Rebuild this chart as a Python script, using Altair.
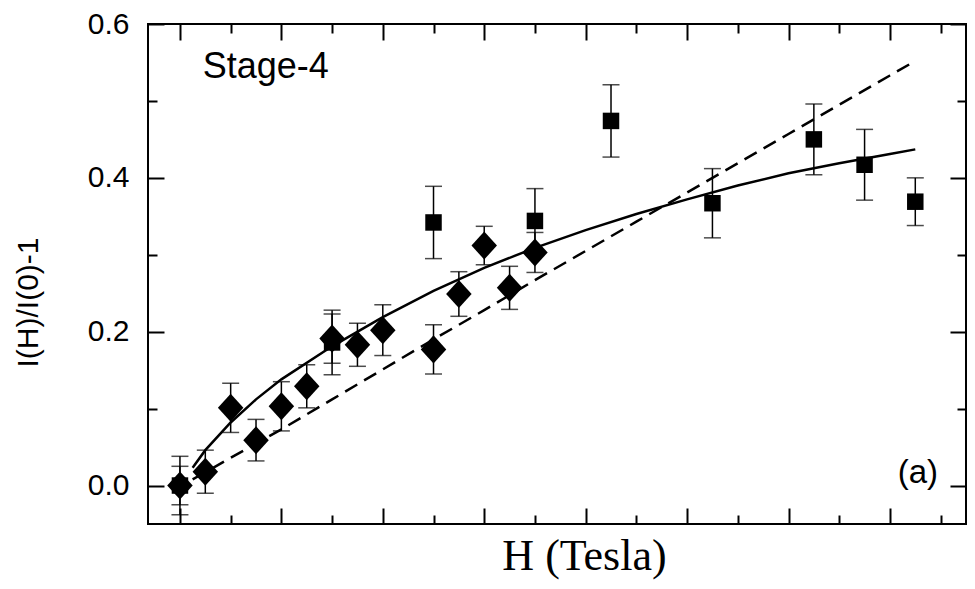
import altair as alt
import pandas as pd

# ---- data ----
dia_h = [0, 0.5, 1, 1.5, 2, 2.5, 3, 3.5, 4, 5, 5.5, 6, 6.5, 7]
dia_v = [0.0, 0.018, 0.101, 0.059, 0.103, 0.129, 0.191, 0.183, 0.202, 0.177, 0.249, 0.312, 0.257, 0.303]
dia_e = [0.038, 0.028, 0.032, 0.027, 0.032, 0.028, 0.032, 0.028, 0.033, 0.032, 0.029, 0.025, 0.028, 0.026]

sq_h = [0, 3, 5, 7, 8.5, 10.5, 12.5, 13.5, 14.5]
sq_v = [0.0, 0.186, 0.342, 0.344, 0.474, 0.367, 0.450, 0.417, 0.369]
sq_e = [0.025, 0.042, 0.047, 0.042, 0.047, 0.045, 0.046, 0.046, 0.031]

solid_h = [0.25, 0.5, 1, 1.5, 2, 3, 4, 5, 6, 7, 8, 9, 10, 11, 12, 13, 14, 14.5]
solid_v = [0.023, 0.046, 0.082, 0.112, 0.138, 0.181, 0.219, 0.253, 0.283, 0.309, 0.332,
           0.353, 0.372, 0.390, 0.406, 0.419, 0.431, 0.437]

dash_h = [0.25, 1, 2, 3, 4, 5, 6, 7, 8, 9, 10, 11, 12, 13, 14, 14.5]
dash_v = [0.008, 0.036, 0.073, 0.112, 0.151, 0.190, 0.228, 0.267, 0.305, 0.343, 0.381,
          0.419, 0.457, 0.495, 0.533, 0.552]

ann_text = ["Stage-4", "(a)"]
ann_h = [0.45, 14.95]
ann_v = [0.53, 0.003]

x_major = [0, 2, 4, 6, 8, 10, 12, 14]
x_minor = [1, 3, 5, 7, 9, 11, 13, 15]
y_major = [0.0, 0.2, 0.4, 0.6]
y_minor = [0.1, 0.3, 0.5]

# ---- tables ----
dia = pd.DataFrame({"h": dia_h, "v": dia_v, "e": dia_e})
dia["lo"] = dia["v"] - dia["e"]
dia["hi"] = dia["v"] + dia["e"]
sq = pd.DataFrame({"h": sq_h, "v": sq_v, "e": sq_e})
sq["lo"] = sq["v"] - sq["e"]
sq["hi"] = sq["v"] + sq["e"]
solid = pd.DataFrame({"h": solid_h, "v": solid_v})
dash = pd.DataFrame({"h": dash_h, "v": dash_v})
ann = pd.DataFrame({"t": ann_text, "h": ann_h, "v": ann_v})

xs = alt.Scale(domain=[-0.63, 15.5], nice=False, zero=False)
ys = alt.Scale(domain=[-0.05, 0.6], nice=False, zero=False)

NOAX = None

def X(field="h", axis=NOAX):
    return alt.X(f"{field}:Q", scale=xs, axis=axis)

def Y(field="v", axis=NOAX):
    return alt.Y(f"{field}:Q", scale=ys, axis=axis)

# main axes: labels/titles only
x_title_axis = alt.Axis(orient="bottom", values=x_major, labels=False, ticks=False, tickSize=0,
                        domain=False, grid=False, title="H (Tesla)",
                        titleFont="Liberation Serif", titleFontSize=44, titleFontWeight="normal",
                        titleColor="black", titleX=436, titleY=45, titleAlign="center",
                        titleBaseline="alphabetic")
y_label_axis = alt.Axis(orient="left", values=y_major, format=".1f", ticks=False, tickSize=0,
                        domain=False, grid=False, labelPadding=19,
                        labelFont="Liberation Sans", labelFontSize=30, labelColor="black",
                        title="I(H)/I(0)-1", titleFont="Liberation Sans", titleFontSize=30,
                        titleFontWeight="normal", titleColor="black", titleAngle=270,
                        titleX=-120, titleY=213, titleAlign="right", titleBaseline="middle")

def tick_axis(orient, values, size):
    return alt.Axis(orient=orient, values=values, labels=False, ticks=True, tickSize=size,
                    offset=-size, tickColor="black", tickWidth=2, domain=False, grid=False,
                    title=None)

def axis_layer(xa, ya):
    return alt.Chart(solid).mark_point(opacity=0).encode(x=X(axis=xa), y=Y(axis=ya))

layers = []
layers.append(axis_layer(x_title_axis, y_label_axis))
layers.append(axis_layer(tick_axis("bottom", x_major, 16), tick_axis("left", y_major, 16)))
layers.append(axis_layer(tick_axis("bottom", x_minor, 9), tick_axis("left", y_minor, 9)))
layers.append(axis_layer(tick_axis("top", x_major, 16), tick_axis("right", y_major, 16)))
layers.append(axis_layer(tick_axis("top", x_minor, 9), tick_axis("right", y_minor, 9)))

# fit curves
layers.append(alt.Chart(solid).mark_line(color="black", strokeWidth=2.5).encode(x=X(), y=Y()))
layers.append(alt.Chart(dash).mark_line(color="black", strokeWidth=2.5, strokeDash=[14, 8]).encode(x=X(), y=Y()))

# error bars
for df in (sq, dia):
    layers.append(alt.Chart(df).mark_rule(color="black", strokeWidth=1.5).encode(
        x=X(), y=Y("lo"), y2=alt.Y2("hi")))
    layers.append(alt.Chart(df).mark_tick(color="black", orient="horizontal", size=17, thickness=1.5).encode(
        x=X(), y=Y("lo")))
    layers.append(alt.Chart(df).mark_tick(color="black", orient="horizontal", size=17, thickness=1.5).encode(
        x=X(), y=Y("hi")))

# markers
layers.append(alt.Chart(sq).mark_point(shape="square", filled=True, color="black", size=272, opacity=1).encode(
    x=X(), y=Y()))
layers.append(alt.Chart(dia).mark_point(shape="M-1,0L0,-1.1L1,0L0,1.1Z", filled=True, color="black",
                                        size=650, opacity=1).encode(x=X(), y=Y()))

# annotations
layers.append(alt.Chart(ann.iloc[[0]]).mark_text(align="left", baseline="alphabetic", font="Liberation Sans",
                                                 fontSize=36, color="black").encode(x=X(), y=Y(), text="t:N"))
layers.append(alt.Chart(ann.iloc[[1]]).mark_text(align="right", baseline="alphabetic", font="Liberation Sans",
                                                 fontSize=33, color="black").encode(x=X(), y=Y(), text="t:N"))

chart = alt.layer(*layers).resolve_axis(x="independent", y="independent").properties(
    width=818, height=500,
    autosize=alt.AutoSizeParams(type="none"),
    padding={"left": 140, "top": 16, "right": 1, "bottom": 56},
    background="white",
).configure_view(stroke="black", strokeWidth=2)

chart.save("out.html", embed_options={"renderer": "svg", "actions": False})
